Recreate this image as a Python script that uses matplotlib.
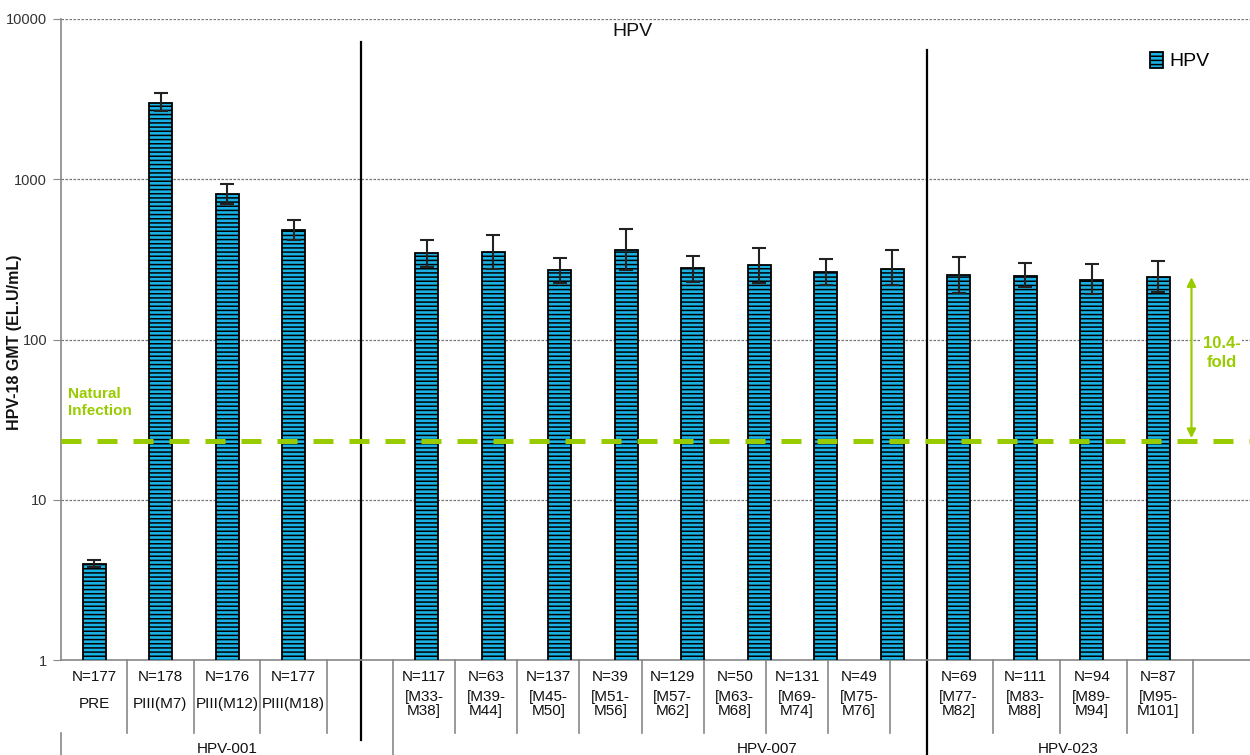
import numpy as np
import matplotlib
matplotlib.use("Agg")
import matplotlib.pyplot as plt
from matplotlib.transforms import blended_transform_factory

plt.rcParams['font.family'] = ['Liberation Sans', 'DejaVu Sans']
plt.rcParams['hatch.linewidth'] = 1.1

# ---------------- data ----------------
n_labels = ["N=177", "N=178", "N=176", "N=177",
            "N=117", "N=63", "N=137", "N=39", "N=129", "N=50", "N=131", "N=49",
            "N=69", "N=111", "N=94", "N=87"]
time_labels = ["PRE", "PIII(M7)", "PIII(M12)", "PIII(M18)",
               "[M33-\nM38]", "[M39-\nM44]", "[M45-\nM50]", "[M51-\nM56]",
               "[M57-\nM62]", "[M63-\nM68]", "[M69-\nM74]", "[M75-\nM76]",
               "[M77-\nM82]", "[M83-\nM88]", "[M89-\nM94]", "[M95-\nM101]"]
gmt = [4.0, 3000, 810, 480,
       345, 352, 271, 362, 279, 290, 263, 277,
       252, 249, 235, 245]
ci_low = [3.78, 2670, 705, 418,
          282, 277, 225, 271, 228, 225, 219, 219,
          195, 214, 192, 198]
ci_high = [4.2, 3430, 930, 560,
           415, 449, 323, 486, 332, 372, 318, 360,
           328, 300, 294, 309]
studies = ["HPV-001", "HPV-007", "HPV-023"]
natural_infection = 23.3
fold_top = 245
fold_label = "10.4-\nfold"
green = '#99CC00'
bar_color = '#1AB2E4'

# slot positions (one blank slot after HPV-001 and one at the end)
x_pos = list(range(0, 4)) + list(range(5, 13)) + list(range(13, 17))

fig = plt.figure(figsize=(12.5, 7.55), dpi=100)
ax = fig.add_axes([61/1250, 95/755, 1 - 61/1250, 641/755])
ax.set_yscale('log')
ax.set_ylim(1, 10000)
ax.set_xlim(-0.5, 17.38)

gmt_a = np.array(gmt)
yerr = [gmt_a - np.array(ci_low), np.array(ci_high) - gmt_a]
ax.bar(x_pos, gmt, width=0.34, color=bar_color, edgecolor='black', linewidth=1.3,
       hatch='----', zorder=3, label='HPV')
ax.errorbar(x_pos, gmt, yerr=yerr, fmt='none', ecolor='#222222', elinewidth=1.5,
            capsize=5, capthick=1.5, zorder=4)

# grid
ax.set_yticks([1, 10, 100, 1000, 10000])
ax.set_yticklabels(['1', '10', '100', '1000', '10000'])
ax.yaxis.set_minor_locator(matplotlib.ticker.NullLocator())
for v in [10, 100, 1000, 10000]:
    ax.axhline(v, color='#777777', lw=0.9, ls=(0, (2, 1.2)), zorder=1)
ax.tick_params(axis='y', length=6, color='#888888', labelsize=10.5, labelcolor='#333333', pad=4)
ax.set_xticks([])
for s in ['top', 'right']:
    ax.spines[s].set_visible(False)
ax.spines['left'].set_color('#888888')
ax.spines['bottom'].set_color('#888888')
ax.spines['left'].set_linewidth(1.2)
ax.spines['bottom'].set_linewidth(1.2)

# natural infection line
ln, = ax.plot([-0.5, 17.38], [natural_infection, natural_infection], color=green,
              lw=3.6, zorder=5, clip_on=False)
ln.set_dashes((4.0, 3.2))
ax.text(-0.4, 40.5, "Natural\nInfection", color=green, fontsize=11, fontweight='bold',
        ha='left', va='center', linespacing=1.25)
ax.annotate('', xy=(16.5, natural_infection * 1.04), xytext=(16.5, fold_top),
            arrowprops=dict(arrowstyle='<|-|>', color=green, lw=1.6, mutation_scale=13,
                            shrinkA=0, shrinkB=0), zorder=6)
ax.text(16.95, 82, fold_label, color=green, fontsize=12, fontweight='bold',
        ha='center', va='center', linespacing=1.35, zorder=6,
        bbox=dict(facecolor='white', edgecolor='none', pad=1))

# table below axis
tr = blended_transform_factory(ax.transData, ax.transAxes)
def vline(x, y0, y1, color='#888888', lw=1.2):
    ax.plot([x, x], [y0, y1], color=color, lw=lw, transform=tr, clip_on=False, zorder=2)

cell_bottom = -0.114
vline(-0.5, cell_bottom, -0.15)
vline(4.49, 0, -0.15)
edges_001 = [0.49, 1.5, 2.49, 3.5]
e7 = np.linspace(4.49, 11.97, 9)
edges_007 = list(e7[1:])
edges_023 = [13.51, 14.52, 15.53, 16.52]
for e in edges_001 + edges_007 + edges_023:
    vline(e, 0, cell_bottom)
vline(4.01, 0.964, -0.125, color='black', lw=1.6)
vline(12.52, 0.952, -0.15, color='black', lw=1.6)

centers_001 = [-0.005, 0.995, 1.995, 3.0]
centers_007 = list((e7[:-1] + e7[1:]) / 2)
centers_023 = [13.0, 14.0, 15.0, 16.0]
centers = centers_001 + centers_007 + centers_023
for c, nl, tl in zip(centers, n_labels, time_labels):
    ax.text(c, -0.027, nl, transform=tr, ha='center', va='center', fontsize=11,
            color='#111111', clip_on=False)
    ax.text(c, -0.069, tl, transform=tr, ha='center', va='center', fontsize=11,
            color='#111111', linespacing=1.0, clip_on=False)

group_centers = [2.0, 10.12, 14.65]
for gc, name in zip(group_centers, studies):
    ax.text(gc, -0.128, name, transform=tr, ha='center', va='top', fontsize=11,
            color='#111111', clip_on=False)

# title, y label, legend
fig.text(632/1250, 1 - 31/755, "HPV", ha='center', va='center', fontsize=14, color='#111111')
fig.text(15/1250, 1 - 342/755, "HPV-18 GMT (EL.U/mL)", rotation=90, ha='center', va='center',
         fontsize=11.5, fontweight='bold', color='#111111')
leg = ax.legend(loc='center left', bbox_to_anchor=(1140/1250, 1 - 61/755),
                bbox_transform=fig.transFigure, frameon=False, handlelength=0.7,
                handleheight=0.9, fontsize=14, borderpad=0, handletextpad=0.3)

fig.savefig('out.png', dpi=100)
